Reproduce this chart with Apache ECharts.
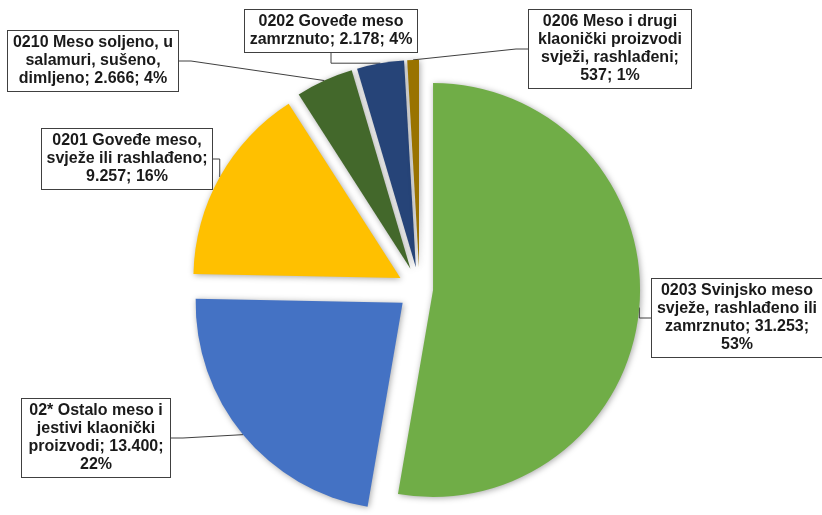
<!DOCTYPE html>
<html>
<head>
<meta charset="utf-8">
<script src="https://cdn.jsdelivr.net/npm/echarts@6/dist/echarts.min.js"></script>
<style>
  html, body { margin: 0; padding: 0; background: #fff; }
  #chart { width: 822px; height: 515px; }
</style>
</head>
<body>
<div id="chart"></div>
<script>
// podaci
const categories = [
  '0203 Svinjsko meso svježe, rashlađeno ili zamrznuto',
  '02* Ostalo meso i jestivi klaonički proizvodi',
  '0201 Goveđe meso, svježe ili rashlađeno',
  '0210 Meso soljeno, u salamuri, sušeno, dimljeno',
  '0202 Goveđe meso zamrznuto',
  '0206 Meso i drugi klaonički proizvodi svježi, rashlađeni'
];
const values = [31253, 13400, 9257, 2666, 2178, 537];
const shares = ['53%', '22%', '16%', '4%', '4%', '1%'];

const colors = ['#70AD47', '#4472C4', '#FFC000', '#43682B', '#264478', '#997300'];
// explosion of each slice (px)
const explode = [13.5, 22, 22, 22, 22, 22];
// label box centres and text widths
const labelPos = [[737, 318], [96, 438], [127, 159], [93, 61], [331, 31], [610, 49]];
const labelWidth = [164, 142, 164, 164, 166, 156];

const cx = 419.6, cy = 288.8, R = 207;
const FONT = 'bold 16px "Liberation Sans", Arial, sans-serif';

function fmt(v) {
  return String(v).replace(/\B(?=(\d{3})+(?!\d))/g, '.');
}

// word wrap like the Excel text boxes
const ctx = document.createElement('canvas').getContext('2d');
function wrap(text, maxW) {
  ctx.font = FONT;
  const words = text.split(' ');
  const lines = [];
  let cur = '';
  words.forEach(w => {
    const test = cur ? cur + ' ' + w : w;
    if (cur && ctx.measureText(test).width > maxW) {
      lines.push(cur);
      cur = w;
    } else {
      cur = test;
    }
  });
  lines.push(cur);
  return lines.join('\n');
}

const total = values.reduce((a, b) => a + b, 0);
let acc = 0;
const series = [];
values.forEach((v, i) => {
  const mid = (acc + v / 2) / total * Math.PI * 2;
  acc += v;
  const c = [cx + explode[i] * Math.sin(mid), cy - explode[i] * Math.cos(mid)];
  series.push({
    type: 'pie',
    center: c,
    radius: R,
    startAngle: 90,
    clockwise: true,
    silent: true,
    animation: false,
    avoidLabelOverlap: false,
    minShowLabelAngle: 0,
    data: values.map((val, j) => ({
      value: val,
      name: categories[j],
      itemStyle: j === i
        ? { color: colors[j], borderWidth: 0, shadowBlur: 6, shadowColor: 'rgba(0,0,0,0.35)', shadowOffsetX: 1, shadowOffsetY: 1 }
        : { color: 'rgba(0,0,0,0)', borderWidth: 0 },
      label: { show: j === i },
      labelLine: { show: j === i }
    })),
    label: {
      formatter: p => wrap(p.name + '; ' + fmt(p.value) + '; ' + shares[p.dataIndex], labelWidth[i]),
      fontFamily: '"Liberation Sans", Arial, sans-serif',
      fontWeight: 'bold',
      fontSize: 16,
      lineHeight: 18,
      color: '#1a1a1a',
      backgroundColor: '#fff',
      borderColor: '#404040',
      borderWidth: 1,
      padding: [3, 3],
      width: labelWidth[i],
      overflow: 'none',
      align: 'center'
    },
    labelLine: {
      length: 10,
      length2: 12,
      lineStyle: { color: '#404040', width: 1 }
    },
    labelLayout: function (params) {
      const p = labelPos[params.dataIndex];
      return { x: p[0], y: p[1], align: 'center', verticalAlign: 'middle' };
    }
  });
});

var myChart = echarts.init(document.getElementById('chart'));
myChart.setOption({
  backgroundColor: '#fff',
  series: series
});
</script>
</body>
</html>
